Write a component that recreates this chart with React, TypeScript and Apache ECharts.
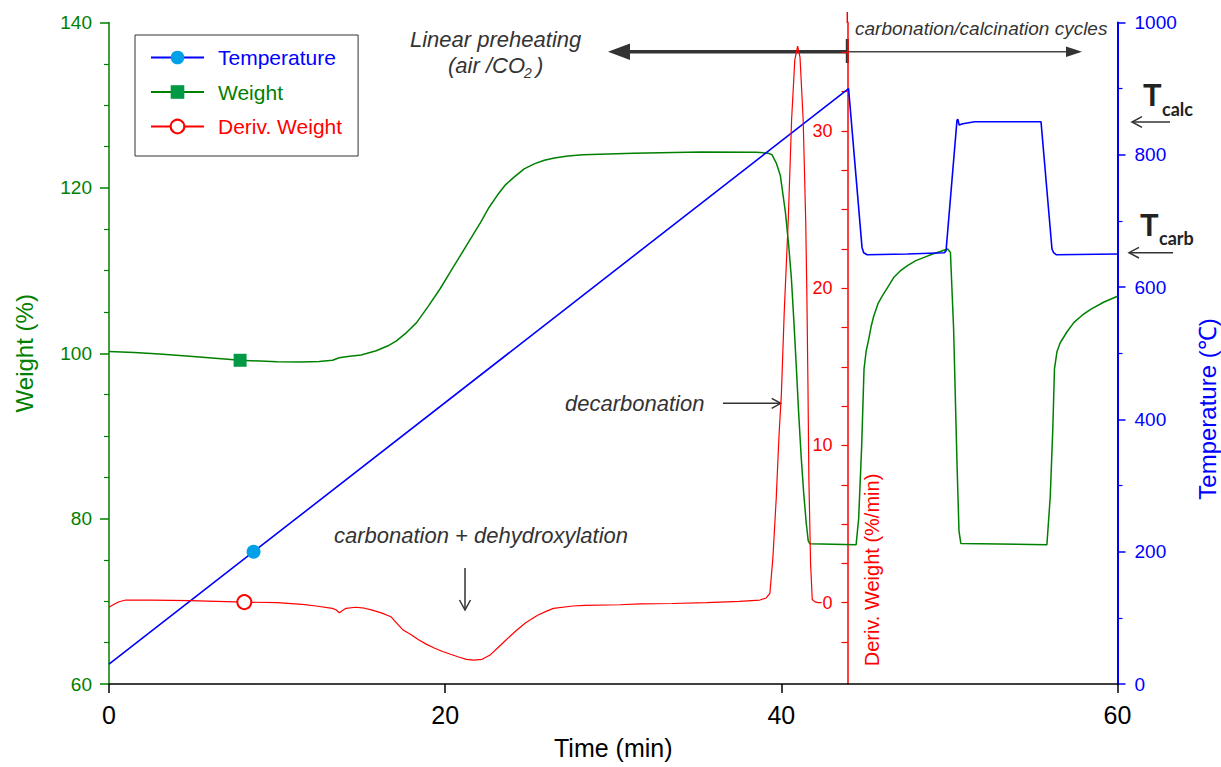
import React, { useEffect, useRef } from 'react';
import * as echarts from 'echarts';

// ---------- data ----------
const timeTicks = [0, 20, 40, 60];
const weightTicks = [60, 80, 100, 120, 140];
const temperatureTicks = [0, 200, 400, 600, 800, 1000];
const derivLabelValues = [0, 10, 20, 30];
const derivTickValues = [-2.5, 0, 2.5, 5, 7.5, 10, 12.5, 15, 17.5, 20, 22.5, 25, 27.5, 30, 32.5, 35];
const derivRange = [-5.17, 36.9];

const seriesNames = ['Temperature', 'Weight', 'Deriv. Weight'];

// [time (min), temperature (°C)]
const temperatureData: [number, number][] = [
  [0, 30], [8.6, 200], [44.0, 900], [44.8, 660], [44.9, 652], [45.1, 649], [47.5, 650],
  [49.7, 652], [49.8, 655], [50.45, 852], [50.5, 854], [50.58, 845], [50.8, 847], [51.5, 850],
  [55.45, 850], [56.1, 658], [56.2, 652], [56.35, 649], [60, 650],
];

// [time (min), weight (%)]
const weightData: [number, number][] = [
  [0, 100.2], [1.5, 100.1], [3, 99.9], [5, 99.6], [7.8, 99.15], [10, 98.98], [11.4, 98.95],
  [12.5, 99.0], [13.3, 99.15], [13.7, 99.45], [14.2, 99.6], [15.0, 99.8], [15.9, 100.3],
  [16.6, 100.9], [17.1, 101.5], [17.7, 102.5], [18.3, 103.7], [19.0, 105.7], [19.7, 107.8],
  [20.3, 109.8], [20.9, 111.8], [21.5, 113.8], [22.1, 115.8], [22.6, 117.6], [23.1, 119.1],
  [23.6, 120.4], [24.1, 121.3], [24.7, 122.3], [25.3, 122.9], [25.9, 123.35], [26.5, 123.6],
  [27.3, 123.85], [28.2, 124.0], [31.2, 124.2], [35.2, 124.35], [38.5, 124.3], [39.2, 124.2],
  [39.45, 124.0], [39.7, 123.0], [39.94, 121.5], [40.24, 117.1], [40.44, 113], [40.6, 109],
  [40.74, 104.1], [40.9, 98], [41.03, 92.8], [41.18, 87.5], [41.33, 83.1], [41.48, 79.5],
  [41.6, 77.3], [41.7, 76.95], [44.45, 76.85], [44.6, 80], [44.78, 88.8], [44.92, 98.1],
  [45.05, 100.3], [45.2, 101.7], [45.35, 103.3], [45.5, 104.5], [45.75, 106.0], [46.0, 106.9],
  [46.4, 108.2], [46.7, 109.2], [47.1, 110.0], [47.5, 110.6], [48.0, 111.2], [48.5, 111.6],
  [49.0, 112.0], [49.46, 112.3], [49.9, 112.6], [50.06, 112.2], [50.25, 102.9], [50.45, 86.75],
  [50.57, 78.5], [50.68, 77.0], [55.8, 76.85], [56.0, 82.7], [56.15, 90.8], [56.25, 98.1],
  [56.4, 100.2], [56.6, 101.3], [57.0, 102.6], [57.4, 103.7], [57.9, 104.6], [58.4, 105.3],
  [59.2, 106.2], [60, 106.9],
];

// [time (min), derivative weight (%/min)]
const derivData: [number, number][] = [
  [0, -0.29], [0.3, -0.1], [0.6, 0.06], [1.0, 0.17], [2.5, 0.17], [4.8, 0.13], [8.05, 0.04],
  [10.0, 0.0], [11.5, -0.1], [12.33, -0.21], [13.28, -0.36], [13.5, -0.45], [13.7, -0.64],
  [13.9, -0.5], [14.1, -0.36], [14.67, -0.29], [15.2, -0.35], [15.61, -0.46], [16.2, -0.65],
  [16.77, -0.89], [17.13, -1.31], [17.5, -1.74], [18.0, -2.05], [18.44, -2.37], [18.9, -2.65],
  [19.38, -2.9], [19.85, -3.1], [20.32, -3.28], [20.8, -3.45], [21.26, -3.6], [21.7, -3.65],
  [22.2, -3.6], [22.67, -3.33], [23.1, -2.9], [23.62, -2.37], [24.2, -1.8], [24.79, -1.27],
  [25.5, -0.8], [26.0, -0.55], [26.44, -0.36], [27.6, -0.21], [28.3, -0.17], [30.4, -0.13],
  [31.6, -0.08], [33.5, -0.05], [35.55, 0.0], [37.5, 0.08], [38.72, 0.17], [39.1, 0.3],
  [39.32, 0.6], [39.5, 2.9], [39.7, 6.7], [39.86, 10.6], [40.0, 13.2], [40.17, 18.4],
  [40.41, 24.3], [40.61, 30.7], [40.8, 34.5], [40.97, 35.4], [41.11, 34.7], [41.3, 30.7],
  [41.45, 24.3], [41.52, 19.5], [41.58, 14.2], [41.64, 7.8], [41.74, 2.5], [41.84, 0.2],
  [42.0, 0.05], [42.2, 0.0], [42.4, 0.0],
];

// time at which each series shows its legend marker
const temperatureMarkerTime = 8.6;
const weightMarkerTime = 7.8;
const derivMarkerTime = 8.05;

// ---------- styles ----------
const BLUE = '#0000ff';
const LIGHT_BLUE = '#00a0e9';
const GREEN = '#008000';
const GREEN_MARK = '#009944';
const RED = '#ff0000';
const ANN = '#333333';
const FONT = '"Liberation Sans", Arial, sans-serif';
const BOLD_FONT = 'Lato, "Open Sans", sans-serif';

function markerSize(data: [number, number][], t: number, size: number) {
  const idx = data.findIndex((d) => d[0] === t);
  return (_v: any, p: any) => (p.dataIndex === idx ? size : 0);
}

function txt(x: number, y: number, text: string, o: any = {}) {
  return {
    type: 'text',
    x,
    y,
    rotation: o.rotation || 0,
    silent: true,
    style: {
      text,
      fill: o.fill || ANN,
      fontSize: o.fontSize || 22,
      fontStyle: o.fontStyle || 'normal',
      fontWeight: o.fontWeight || 'normal',
      fontFamily: o.fontFamily || FONT,
      textAlign: o.align || 'left',
      align: o.align || 'left',
      textVerticalAlign: 'middle',
      verticalAlign: 'middle',
    },
  };
}

function line(x1: number, y1: number, x2: number, y2: number, stroke: string, lineWidth: number) {
  return { type: 'line', silent: true, shape: { x1, y1, x2, y2 }, style: { stroke, lineWidth } };
}

function openHead(points: number[][], stroke = ANN, lineWidth = 1.5) {
  return { type: 'polyline', silent: true, shape: { points }, style: { stroke, lineWidth, fill: null } };
}

function filledHead(points: number[][], fill = ANN) {
  return { type: 'polygon', silent: true, shape: { points }, style: { fill } };
}

const plainNumber = (v: number) => String(v);

export default function App() {
  const ref = useRef<HTMLDivElement>(null);

  useEffect(() => {
    if (!ref.current) return;
    const chart = echarts.init(ref.current, undefined, { renderer: 'svg' });

    const option: any = {
      animation: false,
      backgroundColor: '#ffffff',
      grid: { left: 109, right: 103.5, top: 22.5, bottom: 83, outerBoundsMode: 'none' },
      legend: {
        orient: 'vertical',
        left: 135,
        top: 35,
        padding: [12, 16, 19, 15],
        itemWidth: 53,
        itemHeight: 17,
        itemGap: 13.5,
        selectedMode: false,
        borderColor: '#333',
        borderWidth: 1,
        backgroundColor: '#fff',
        textStyle: { fontSize: 21, fontFamily: FONT, padding: [0, 0, 0, 9] },
        data: [
          { name: seriesNames[0], textStyle: { color: BLUE } },
          { name: seriesNames[1], textStyle: { color: GREEN } },
          { name: seriesNames[2], textStyle: { color: RED } },
        ],
      },
      xAxis: {
        type: 'value',
        min: timeTicks[0],
        max: timeTicks[timeTicks.length - 1],
        interval: timeTicks[1] - timeTicks[0],
        name: 'Time (min)',
        nameLocation: 'middle',
        nameGap: 51,
        nameTextStyle: { fontSize: 25, color: '#000', fontFamily: FONT },
        axisLine: { onZero: false, lineStyle: { color: '#000', width: 1.5 } },
        axisTick: { length: 9, lineStyle: { color: '#000', width: 1.5 } },
        axisLabel: { fontSize: 25, color: '#000', margin: 18, fontFamily: FONT, formatter: plainNumber },
        splitLine: { show: false },
      },
      yAxis: [
        {
          type: 'value',
          position: 'left',
          min: weightTicks[0],
          max: weightTicks[weightTicks.length - 1],
          interval: weightTicks[1] - weightTicks[0],
          name: 'Weight (%)',
          nameLocation: 'middle',
          nameGap: 73,
          nameTextStyle: { fontSize: 24, color: GREEN, fontFamily: FONT },
          axisLine: { show: true, onZero: false, lineStyle: { color: GREEN, width: 1.5 } },
          axisTick: { show: true, length: 9, lineStyle: { color: GREEN, width: 1.5 } },
          minorTick: { show: true, splitNumber: 4, length: 5, lineStyle: { color: GREEN, width: 1.2 } },
          axisLabel: { fontSize: 19, color: GREEN, margin: 17, fontFamily: FONT, formatter: plainNumber },
          splitLine: { show: false },
          minorSplitLine: { show: false },
        },
        {
          type: 'value',
          position: 'right',
          min: temperatureTicks[0],
          max: temperatureTicks[temperatureTicks.length - 1],
          interval: temperatureTicks[1] - temperatureTicks[0],
          axisLine: { show: true, onZero: false, lineStyle: { color: BLUE, width: 2 } },
          axisTick: { show: true, length: 8, lineStyle: { color: BLUE, width: 1.5 } },
          minorTick: { show: true, splitNumber: 2, length: 5, lineStyle: { color: BLUE, width: 1.2 } },
          axisLabel: { fontSize: 19, color: BLUE, margin: 17, fontFamily: FONT, formatter: plainNumber },
          splitLine: { show: false },
          minorSplitLine: { show: false },
        },
        {
          type: 'value',
          position: 'right',
          offset: -270,
          min: derivRange[0],
          max: derivRange[1],
          axisLine: { show: true, onZero: false, lineStyle: { color: RED, width: 1.5 } },
          axisTick: {
            show: true,
            inside: true,
            length: 6,
            customValues: derivTickValues,
            lineStyle: { color: RED, width: 1.2 },
          },
          axisLabel: {
            inside: true,
            fontSize: 18,
            color: RED,
            margin: 15,
            fontFamily: FONT,
            customValues: derivLabelValues,
            formatter: plainNumber,
          },
          splitLine: { show: false },
        },
      ],
      series: [
        {
          name: seriesNames[0],
          type: 'line',
          yAxisIndex: 1,
          data: temperatureData,
          symbol: 'circle',
          showSymbol: true,
          symbolSize: markerSize(temperatureData, temperatureMarkerTime, 14),
          itemStyle: { color: LIGHT_BLUE },
          lineStyle: { color: BLUE, width: 1.6 },
          z: 3,
        },
        {
          name: seriesNames[1],
          type: 'line',
          yAxisIndex: 0,
          data: weightData,
          symbol: 'rect',
          showSymbol: true,
          symbolSize: markerSize(weightData, weightMarkerTime, 13),
          itemStyle: { color: GREEN_MARK },
          lineStyle: { color: GREEN, width: 1.5 },
          z: 2,
        },
        {
          name: seriesNames[2],
          type: 'line',
          yAxisIndex: 2,
          data: derivData,
          symbol: 'emptyCircle',
          showSymbol: true,
          symbolSize: markerSize(derivData, derivMarkerTime, 14),
          itemStyle: { color: RED, borderWidth: 1.2 },
          lineStyle: { color: RED, width: 1.2 },
          z: 4,
        },
      ],
      graphic: [
        // red axis line extends above the frame
        line(847.3, 12, 847.3, 23, RED, 1.5),
        // preheating / cycles arrows
        line(847, 51.7, 626, 51.7, ANN, 3.5),
        filledHead([[608, 51.7], [630, 43.5], [630, 60]]),
        line(847, 51.7, 1070, 51.7, '#444', 1.5),
        filledHead([[1082, 51.7], [1066, 46.5], [1066, 57]]),
        line(847.3, 39, 847.3, 63, ANN, 3),
        txt(410, 39, 'Linear preheating', { fontStyle: 'italic' }),
        txt(448, 65, '(air /CO', { fontStyle: 'italic' }),
        txt(524, 73, '2', { fontStyle: 'italic', fontSize: 14 }),
        txt(536, 65, ')', { fontStyle: 'italic' }),
        txt(855, 28, 'carbonation/calcination cycles', { fontStyle: 'italic', fontSize: 19 }),
        // decarbonation
        txt(565, 403, 'decarbonation', { fontStyle: 'italic' }),
        line(723, 403.3, 780.5, 403.3, ANN, 1.5),
        openHead([[771.7, 398.3], [780.7, 403.3], [771.7, 408.3]]),
        // carbonation + dehydroxylation
        txt(481, 535, 'carbonation + dehydroxylation', { fontStyle: 'italic', align: 'center' }),
        line(465, 568, 465, 609.5, ANN, 1.5),
        openHead([[459.5, 600], [465, 610], [470.5, 600]]),
        // T calc / T carb
        txt(1143, 94, 'T', { fontWeight: 'bold', fontSize: 31, fill: '#222', fontFamily: BOLD_FONT }),
        txt(1162, 109, 'calc', { fontWeight: 'bold', fontSize: 18, fill: '#222', fontFamily: BOLD_FONT }),
        line(1170, 122, 1132.5, 122, ANN, 1.5),
        openHead([[1142, 116.7], [1132, 122], [1142, 127.3]]),
        txt(1140, 224, 'T', { fontWeight: 'bold', fontSize: 31, fill: '#222', fontFamily: BOLD_FONT }),
        txt(1159, 238, 'carb', { fontWeight: 'bold', fontSize: 18, fill: '#222', fontFamily: BOLD_FONT }),
        line(1173, 252.7, 1129.5, 252.7, ANN, 1.5),
        openHead([[1139, 247.3], [1129, 252.7], [1139, 258]]),
        // rotated axis names
        txt(1207, 409, 'Temperature (℃)', { rotation: Math.PI / 2, align: 'center', fontSize: 24, fill: BLUE }),
        txt(872, 570, 'Deriv. Weight (%/min)', { rotation: Math.PI / 2, align: 'center', fontSize: 20, fill: RED }),
      ],
    };

    chart.setOption(option);
    return () => chart.dispose();
  }, []);

  return (
    <div
      ref={ref}
      style={{ position: 'absolute', left: 0, top: 0, width: 1221, height: 767, background: '#fff' }}
    />
  );
}
